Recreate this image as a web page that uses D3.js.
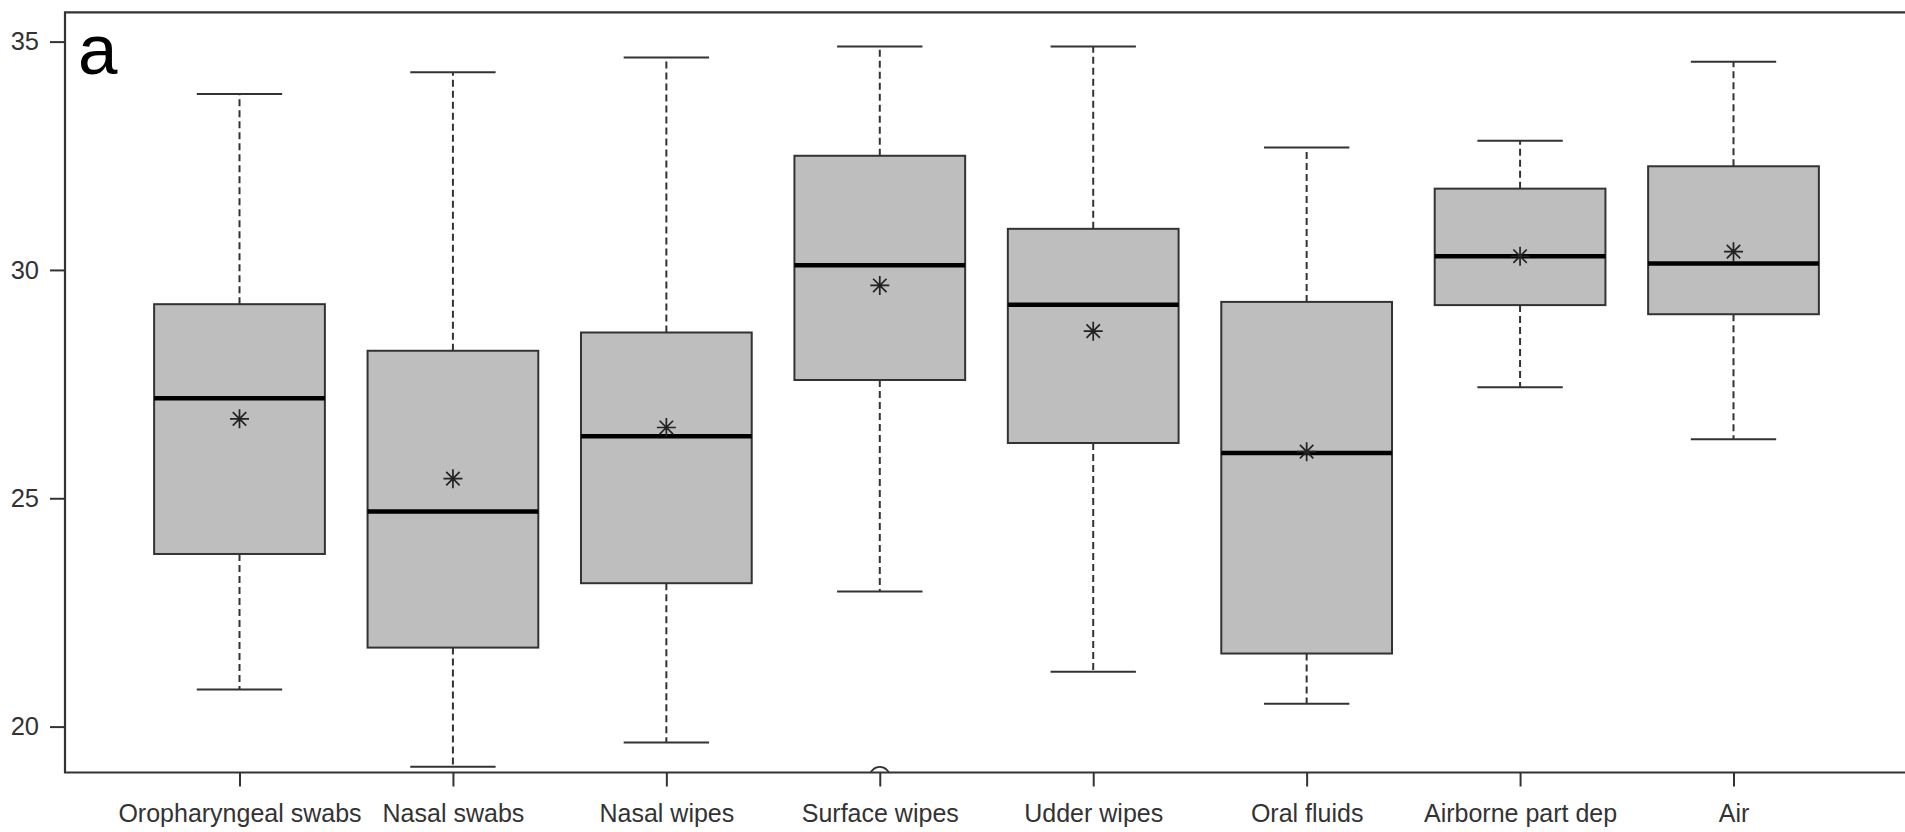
<!DOCTYPE html>
<html>
<head>
<meta charset="utf-8">
<script src="https://cdn.jsdelivr.net/npm/d3@7"></script>
<style>
  html, body { margin: 0; padding: 0; background: #fff; }
  svg { display: block; }
  text { font-family: "Liberation Sans", Arial, Helvetica, sans-serif; }
</style>
</head>
<body>
<svg id="chart" width="1905" height="832"></svg>
<script>
// Sample types along the x axis
const categories = ["Oropharyngeal swabs", "Nasal swabs", "Nasal wipes", "Surface wipes",
                    "Udder wipes", "Oral fluids", "Airborne part dep", "Air"];

// Five-number summaries (Ct values) per sample type
const whiskerLow  = [20.81, 19.12, 19.65, 22.96, 21.20, 20.50, 27.43, 26.29];
const q1          = [23.78, 21.73, 23.14, 27.59, 26.21, 21.60, 29.23, 29.03];
const median      = [27.19, 24.71, 26.36, 30.10, 29.24, 25.99, 30.30, 30.14];
const q3          = [29.25, 28.23, 28.63, 32.50, 30.90, 29.30, 31.78, 32.27];
const whiskerHigh = [33.85, 34.33, 34.65, 34.89, 34.89, 32.68, 32.83, 34.56];
const means       = [26.74, 25.43, 26.55, 29.66, 28.66, 26.02, 30.30, 30.40];

// Outlying observations
const outlierCategory = ["Surface wipes"];
const outlierValue    = [18.9];

const yTicks = [20, 25, 30, 35];
const panelLabel = "a";

const svg = d3.select("#chart");
const W = 1905;

const plot = { left: 65, top: 12.3, bottom: 772.5, right: 1915 };

const x = d3.scaleLinear().domain([1, 8]).range([239.5, 1733.5]);
const y = d3.scaleLinear().domain([20, 35]).range([726.6, 41.6]);
const unit = x(2) - x(1);
const boxW = 0.8 * unit;
const capW = 0.4 * unit;

const ink = "#333";

svg.append("defs").append("clipPath").attr("id", "plotclip")
  .append("rect")
  .attr("x", plot.left).attr("y", plot.top)
  .attr("width", plot.right - plot.left).attr("height", plot.bottom - plot.top);

const data = categories.map((c, i) => ({
  cat: c, i: i + 1,
  lo: whiskerLow[i], q1: q1[i], med: median[i], q3: q3[i], hi: whiskerHigh[i], mean: means[i]
}));

const g = svg.append("g").attr("clip-path", "url(#plotclip)");

const box = g.selectAll("g.box").data(data).join("g").attr("class", "box");

// whiskers (dashed)
box.append("line")
  .attr("x1", d => x(d.i)).attr("x2", d => x(d.i))
  .attr("y1", d => y(d.q3)).attr("y2", d => y(d.hi))
  .attr("stroke", ink).attr("stroke-width", 2).attr("stroke-dasharray", "7,4");
box.append("line")
  .attr("x1", d => x(d.i)).attr("x2", d => x(d.i))
  .attr("y1", d => y(d.q1)).attr("y2", d => y(d.lo))
  .attr("stroke", ink).attr("stroke-width", 2).attr("stroke-dasharray", "7,4");

// whisker caps
box.append("line")
  .attr("x1", d => x(d.i) - capW / 2).attr("x2", d => x(d.i) + capW / 2)
  .attr("y1", d => y(d.hi)).attr("y2", d => y(d.hi))
  .attr("stroke", ink).attr("stroke-width", 2);
box.append("line")
  .attr("x1", d => x(d.i) - capW / 2).attr("x2", d => x(d.i) + capW / 2)
  .attr("y1", d => y(d.lo)).attr("y2", d => y(d.lo))
  .attr("stroke", ink).attr("stroke-width", 2);

// boxes
box.append("rect")
  .attr("x", d => x(d.i) - boxW / 2).attr("width", boxW)
  .attr("y", d => y(d.q3)).attr("height", d => y(d.q1) - y(d.q3))
  .attr("fill", "#bebebe").attr("stroke", ink).attr("stroke-width", 2);

// medians
box.append("line")
  .attr("x1", d => x(d.i) - boxW / 2).attr("x2", d => x(d.i) + boxW / 2)
  .attr("y1", d => y(d.med)).attr("y2", d => y(d.med))
  .attr("stroke", "#000").attr("stroke-width", 4.5);

// mean markers: eight-armed asterisk
const r = 9.5, s = r / Math.SQRT2;
const starPath = `M${-r},0L${r},0M0,${-r}L0,${r}M${-s},${-s}L${s},${s}M${-s},${s}L${s},${-s}`;
box.append("path")
  .attr("transform", d => `translate(${x(d.i)},${y(d.mean)})`)
  .attr("d", starPath)
  .attr("fill", "none").attr("stroke", "#222").attr("stroke-width", 1.7);

// outliers (open circles)
g.selectAll("circle.out").data(outlierValue).join("circle")
  .attr("class", "out")
  .attr("cx", (v, k) => x(categories.indexOf(outlierCategory[k]) + 1))
  .attr("cy", v => y(v))
  .attr("r", 10)
  .attr("fill", "none").attr("stroke", ink).attr("stroke-width", 1.8);

// axes
const yAxis = d3.axisLeft(y).tickValues(yTicks).tickSize(15).tickPadding(11).tickFormat(d3.format("d"));
const ya = svg.append("g").attr("transform", `translate(${plot.left},0)`).call(yAxis);
ya.select(".domain").remove();
ya.selectAll(".tick line").attr("stroke", ink).attr("stroke-width", 2);
ya.selectAll(".tick text").attr("font-size", 25.5).style("fill", ink)
  .style("font-family", '"Liberation Sans", Arial, sans-serif');

const xAxis = d3.axisBottom(x).tickValues(d3.range(1, 9)).tickSize(14).tickPadding(18)
  .tickFormat(d => categories[d - 1]);
const xa = svg.append("g").attr("transform", `translate(0,${plot.bottom})`).call(xAxis);
xa.select(".domain").remove();
xa.selectAll(".tick line").attr("stroke", ink).attr("stroke-width", 2);
xa.selectAll(".tick text").attr("font-size", 25).style("fill", ink)
  .style("font-family", '"Liberation Sans", Arial, sans-serif');

// plot frame (open on the right)
svg.append("path")
  .attr("d", `M${W + 5},${plot.top}L${plot.left},${plot.top}L${plot.left},${plot.bottom}L${W + 5},${plot.bottom}`)
  .attr("fill", "none").attr("stroke", ink).attr("stroke-width", 2.2);

// panel letter
svg.append("text")
  .attr("x", 78).attr("y", 74)
  .attr("font-size", 71).style("fill", "#000")
  .text(panelLabel);
</script>
</body>
</html>
